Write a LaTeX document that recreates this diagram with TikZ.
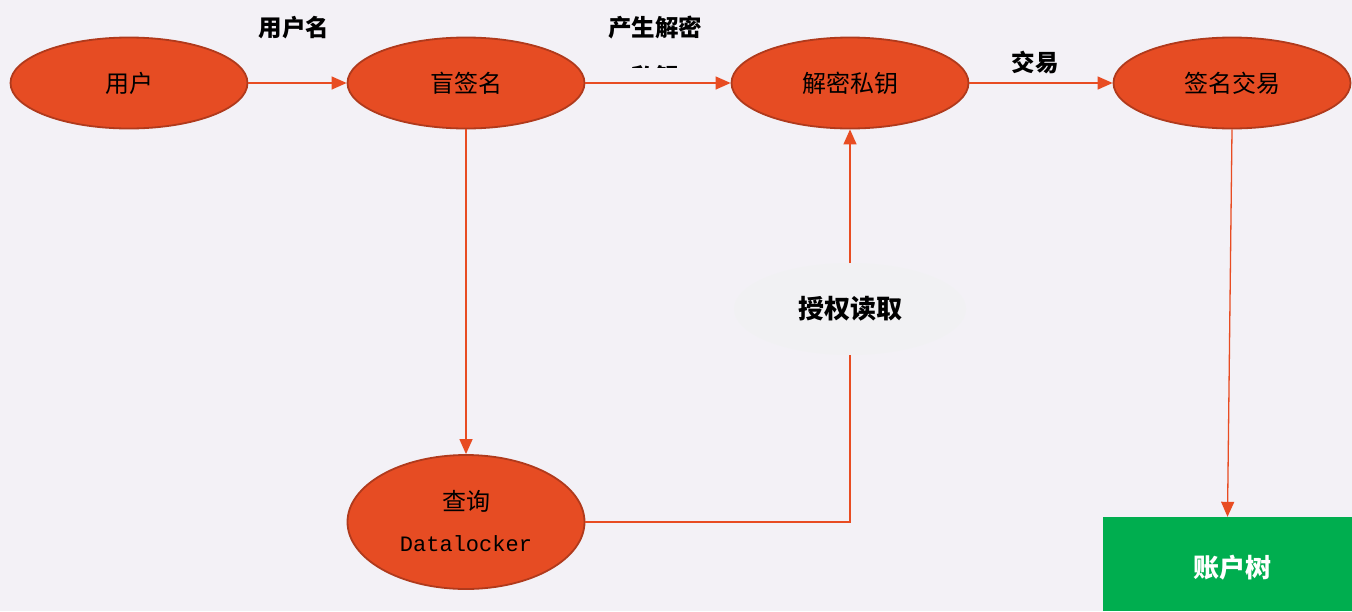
\documentclass[tikz,border=0pt]{standalone}
\usepackage{fontspec}
\setmainfont{Noto Sans CJK SC}
\newfontfamily\cjk{Noto Sans CJK SC}
\newfontfamily\monof{Liberation Mono}
\usetikzlibrary{arrows.meta,shapes.geometric}
\definecolor{bgc}{HTML}{F3F1F6}
\definecolor{ellf}{HTML}{E64C23}
\definecolor{elld}{HTML}{B03A1C}
\definecolor{linec}{HTML}{E84C22}
\definecolor{greenc}{HTML}{00AE4F}
\definecolor{softc}{HTML}{F1F1F3}
\tikzset{
  oval/.style={ellipse, fill=ellf, draw=elld, line width=1.8pt, minimum width=237pt, minimum height=91pt, inner sep=0pt, font=\cjk\fontsize{24}{28}\selectfont, text=black},
  conn/.style={draw=linec, line width=1.3pt, -{Triangle[length=15pt,width=13pt]}},
  plain/.style={draw=linec, line width=1.3pt},
  lbl/.style={font=\cjk\bfseries\fontsize{23.5}{27}\selectfont, text=black, inner sep=0pt}
}
\begin{document}
\begin{tikzpicture}[x=1pt,y=-1pt]
\fill[bgc] (0,0) rectangle (1352,611);
\useasboundingbox (0,0) rectangle (1352,611);
\node[oval] (user) at (129,83) {用户};
\node[oval] (blind) at (466,83) {盲签名};
\node[oval] (key) at (850,83) {解密私钥};
\node[oval] (sign) at (1232,83) {签名交易};
\node[oval, minimum height=134pt] (query) at (466,522) {};
\node[font=\cjk\fontsize{24}{28}\selectfont, inner sep=0pt] (qt) at (466,501) {查询};
\node[font=\monof\fontsize{22}{26}\selectfont, inner sep=0pt] (qd) at (466,544) {Datalocker};
\node[fill=greenc, minimum width=249pt, minimum height=94pt, inner sep=0pt] (tree) at (1227.5,564) {};
\node[text=white, font=\cjk\bfseries\fontsize{26}{30}\selectfont, inner sep=0pt] (treet) at (1232,568) {账户树};
\node[ellipse, fill=softc, minimum width=232pt, minimum height=92pt, inner sep=0pt, font=\cjk\bfseries\fontsize{26}{30}\selectfont] (auth) at (850,309) {授权读取};
\coordinate (authtop) at (850,263);
\coordinate (authbot) at (850,355);
\coordinate (corner) at (850,522);
% connectors
\draw[conn] (user.east) -- (blind.west);
\draw[conn] (blind.east) -- (key.west);
\draw[conn] (key.east) -- (sign.west);
\draw[conn] (blind.south) -- (query.north);
\draw[conn] (sign.south) -- (tree.north);
\draw[plain] (query.east) -- (corner) -- (authbot);
\draw[conn] (authtop) -- (key.south);
% labels
\node[lbl] (l1) at (294,28) {用户名};
\node[lbl] (l2) at (655,28) {产生解密};
\begin{scope}
\clip (600,50) rectangle (720,67);
\node[lbl] (l2b) at (655,77) {私钥};
\end{scope}
\node[lbl] (l3) at (1035,62) {交易};
\end{tikzpicture}
\end{document}
